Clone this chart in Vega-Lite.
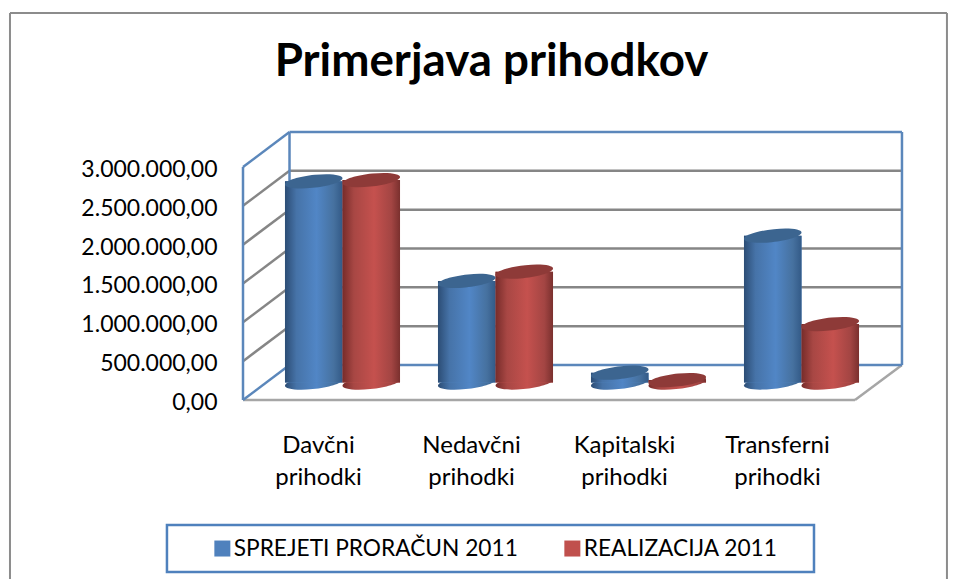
{
  "$schema": "https://vega.github.io/schema/vega-lite/v6.json",
  "width": 659,
  "height": 268.3,
  "autosize": {"type": "none"},
  "padding": {"left": 243, "top": 131.7, "right": 55, "bottom": 179},
  "background": "white",
  "title": {"text": "Primerjava prihodkov", "font": "Lato", "fontWeight": "bold", "fontSize": 45.7, "color": "#000000", "anchor": "middle", "dx": -81, "offset": -74},
  "config": {"view": {"stroke": null}, "font": "Lato"},
  "datasets": {
    "outer": [
      {"x": -1.523, "x2": -1.523, "y": 4982800, "y2": -2304700},
      {"x": -1.523, "x2": 4.601, "y": 4982800, "y2": 4982800},
      {"x": 4.601, "x2": 4.601, "y": 4982800, "y2": -2304700}
    ],
    "grid": [
      {"x": 0.304, "x2": 4.307, "y": 950640, "y2": 950640},
      {"x": 0.304, "x2": 4.307, "y": 1450640, "y2": 1450640},
      {"x": 0.304, "x2": 4.307, "y": 1950640, "y2": 1950640},
      {"x": 0.304, "x2": 4.307, "y": 2450640, "y2": 2450640},
      {"x": 0.304, "x2": 4.307, "y": 2950640, "y2": 2950640},
      {"x": 0, "x2": 0.304, "y": 500000, "y2": 950640},
      {"x": 0, "x2": 0.304, "y": 1000000, "y2": 1450640},
      {"x": 0, "x2": 0.304, "y": 1500000, "y2": 1950640},
      {"x": 0, "x2": 0.304, "y": 2000000, "y2": 2450640},
      {"x": 0, "x2": 0.304, "y": 2500000, "y2": 2950640}
    ],
    "floor": [
      {"x": 0, "x2": 4, "y": 0, "y2": 0},
      {"x": 4, "x2": 4.307, "y": 0, "y2": 450640}
    ],
    "wall": [
      {"x": 0, "x2": 0, "y": 0, "y2": 3000000},
      {"x": 0, "x2": 0.304, "y": 3000000, "y2": 3450640},
      {"x": 0, "x2": 0.304, "y": 0, "y2": 450640},
      {"x": 0.304, "x2": 0.304, "y": 450640, "y2": 3450640},
      {"x": 0.304, "x2": 4.307, "y": 3450640, "y2": 3450640},
      {"x": 0.304, "x2": 4.307, "y": 450640, "y2": 450640},
      {"x": 4.307, "x2": 4.307, "y": 450640, "y2": 3450640}
    ],
    "box": [
      {"x": -0.497, "x2": 3.732, "y": -1609400, "y2": -2214600}
    ],
    "bars": [
      {"kat": "Davčni prihodki", "serija": "SPREJETI PRORAČUN 2011", "v": 2590000},
      {"kat": "Davčni prihodki", "serija": "REALIZACIJA 2011", "v": 2607000},
      {"kat": "Nedavčni prihodki", "serija": "SPREJETI PRORAČUN 2011", "v": 1307000},
      {"kat": "Nedavčni prihodki", "serija": "REALIZACIJA 2011", "v": 1427000},
      {"kat": "Kapitalski prihodki", "serija": "SPREJETI PRORAČUN 2011", "v": 126000},
      {"kat": "Kapitalski prihodki", "serija": "REALIZACIJA 2011", "v": 32000},
      {"kat": "Transferni prihodki", "serija": "SPREJETI PRORAČUN 2011", "v": 1890000},
      {"kat": "Transferni prihodki", "serija": "REALIZACIJA 2011", "v": 753000}
    ]
  },
  "resolve": {"scale": {"x": "independent"}, "axis": {"x": "independent", "y": "independent"}},
  "layer": [
    {
      "resolve": {"axis": {"y": "independent"}},
      "layer": [
        {
          "data": {"name": "outer"},
          "mark": {"type": "rule", "stroke": "#8c8c8c", "strokeWidth": 2, "clip": false},
          "encoding": {
            "x": {"field": "x", "type": "quantitative", "scale": {"domain": [0, 4.3072], "nice": false, "zero": false}, "axis": null},
            "x2": {"field": "x2"},
            "y": {"field": "y", "type": "quantitative", "scale": {"domain": [0, 3454500], "nice": false, "zero": false},
              "axis": {"title": null, "values": [0, 500000, 1000000, 1500000, 2000000, 2500000, 3000000], "domain": false, "ticks": false, "grid": false, "labelPadding": 26, "labelOffset": 2.5, "labelFont": "Lato", "labelFontSize": 23, "labelColor": "#000000", "labelExpr": "replace(format(datum.value, ',.0f'), /,/g, '.') + ',00'"}},
            "y2": {"field": "y2"}
          }
        },
        {
          "data": {"name": "grid"},
          "mark": {"type": "rule", "stroke": "#868686", "strokeWidth": 2.5},
          "encoding": {
            "x": {"field": "x", "type": "quantitative", "axis": null},
            "x2": {"field": "x2"},
            "y": {"field": "y", "type": "quantitative", "axis": null},
            "y2": {"field": "y2"}
          }
        },
        {
          "data": {"name": "floor"},
          "mark": {"type": "rule", "stroke": "#a6a6a6", "strokeWidth": 2.5},
          "encoding": {
            "x": {"field": "x", "type": "quantitative", "axis": null},
            "x2": {"field": "x2"},
            "y": {"field": "y", "type": "quantitative", "axis": null},
            "y2": {"field": "y2"}
          }
        },
        {
          "data": {"name": "wall"},
          "mark": {"type": "rule", "stroke": "#5b87bb", "strokeWidth": 2.5},
          "encoding": {
            "x": {"field": "x", "type": "quantitative", "axis": null},
            "x2": {"field": "x2"},
            "y": {"field": "y", "type": "quantitative", "axis": null},
            "y2": {"field": "y2"}
          }
        },
        {
          "data": {"name": "box"},
          "mark": {"type": "rect", "fill": "white", "stroke": "#4f81bd", "strokeWidth": 2.5, "clip": false},
          "encoding": {
            "x": {"field": "x", "type": "quantitative", "axis": null},
            "x2": {"field": "x2"},
            "y": {"field": "y", "type": "quantitative", "axis": null},
            "y2": {"field": "y2"}
          }
        }
      ]
    },
    {
      "data": {"name": "bars"},
      "encoding": {
        "x": {"field": "kat", "type": "nominal", "sort": null,
          "scale": {"range": [23, 635], "paddingInner": 0, "paddingOuter": 0},
          "axis": {"title": null, "domain": false, "ticks": false, "grid": false, "labelAngle": 0, "labelOffset": -24, "labelPadding": 45, "labelFont": "Lato", "labelFontSize": 24, "labelLineHeight": 32, "labelColor": "#000000", "labelBaseline": "middle", "labelLimit": 300, "labelExpr": "split(datum.label, ' ')"}},
        "xOffset": {"field": "serija", "type": "nominal", "sort": ["SPREJETI PRORAČUN 2011", "REALIZACIJA 2011"],
          "scale": {"domain": ["SPREJETI PRORAČUN 2011", "REALIZACIJA 2011"], "paddingInner": 0, "paddingOuter": 0.33}}
      },
      "layer": [
        {
          "mark": {"type": "point", "filled": true, "opacity": 1, "size": 3306, "yOffset": -17.5, "shape": "M-1,0.1 A1,0.22 -6.5 1 1 1,-0.1 A1,0.22 -6.5 1 1 -1,0.1 Z"},
          "encoding": {
            "y": {"datum": 0, "type": "quantitative", "axis": null},
            "fill": {
              "condition": {"test": "datum.serija === 'REALIZACIJA 2011'", "value": {"gradient": "linear", "x1": 0, "x2": 1, "y1": 0, "y2": 0, "stops": [{"offset": 0, "color": "#772c2a"}, {"offset": 0.2, "color": "#a84744"}, {"offset": 0.55, "color": "#c5514e"}, {"offset": 0.85, "color": "#a34543"}, {"offset": 1, "color": "#7a302e"}]}},
              "value": {"gradient": "linear", "x1": 0, "x2": 1, "y1": 0, "y2": 0, "stops": [{"offset": 0, "color": "#2c4d75"}, {"offset": 0.2, "color": "#4673a8"}, {"offset": 0.55, "color": "#5186c6"}, {"offset": 0.85, "color": "#46719f"}, {"offset": 1, "color": "#335a87"}]}
            }
          }
        },
        {
          "mark": {"type": "bar", "yOffset": -17.5, "y2Offset": -17.5},
          "encoding": {
            "y": {"field": "v", "type": "quantitative", "stack": null, "axis": null},
            "y2": {"datum": 0},
            "color": {"field": "serija", "type": "nominal", "scale": {"domain": ["SPREJETI PRORAČUN 2011", "REALIZACIJA 2011"], "range": ["#4f81bd", "#c0504d"]},
              "legend": {"title": null, "orient": "none", "legendX": -32, "legendY": 405, "columns": 2, "columnPadding": 43, "symbolType": "square", "symbolSize": 256, "symbolStrokeWidth": 0, "labelFont": "Lato", "labelFontSize": 22.7, "labelColor": "#000000", "labelOffset": 0, "labelLimit": 400, "padding": 0}}
          }
        },
        {
          "mark": {"type": "bar", "yOffset": -17.5, "y2Offset": -17.5},
          "encoding": {
            "y": {"field": "v", "type": "quantitative", "stack": null, "axis": null},
            "y2": {"datum": 0},
            "fill": {
              "condition": {"test": "datum.serija === 'REALIZACIJA 2011'", "value": {"gradient": "linear", "x1": 0, "x2": 1, "y1": 0, "y2": 0, "stops": [{"offset": 0, "color": "#772c2a"}, {"offset": 0.2, "color": "#a84744"}, {"offset": 0.55, "color": "#c5514e"}, {"offset": 0.85, "color": "#a34543"}, {"offset": 1, "color": "#7a302e"}]}},
              "value": {"gradient": "linear", "x1": 0, "x2": 1, "y1": 0, "y2": 0, "stops": [{"offset": 0, "color": "#2c4d75"}, {"offset": 0.2, "color": "#4673a8"}, {"offset": 0.55, "color": "#5186c6"}, {"offset": 0.85, "color": "#46719f"}, {"offset": 1, "color": "#335a87"}]}
            }
          }
        },
        {
          "mark": {"type": "point", "filled": true, "opacity": 1, "size": 3306, "yOffset": -17.5, "shape": "M-1,0.1 A1,0.22 -6.5 1 1 1,-0.1 A1,0.22 -6.5 1 1 -1,0.1 Z"},
          "encoding": {
            "y": {"field": "v", "type": "quantitative", "stack": null, "axis": null},
            "fill": {"condition": {"test": "datum.serija === 'REALIZACIJA 2011'", "value": "#8e3a38"}, "value": "#3c6590"}
          }
        }
      ]
    }
  ]
}
